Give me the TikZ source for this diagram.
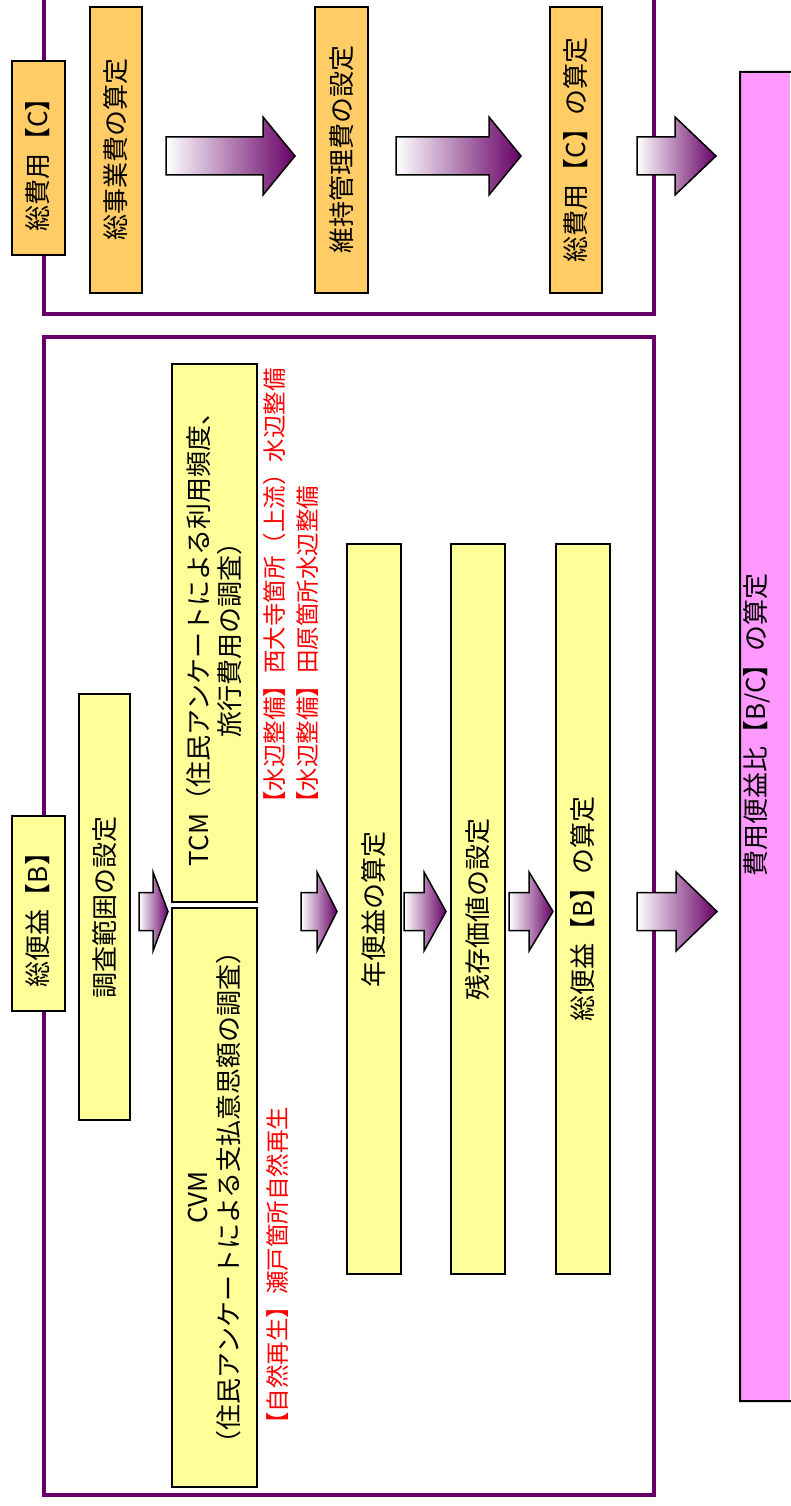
\documentclass[tikz,border=0pt]{standalone}
\usepackage{fontspec}
\newfontfamily\jp{Noto Sans CJK JP}
\definecolor{frm}{HTML}{660066}
\definecolor{ylw}{HTML}{FFFF99}
\definecolor{org}{HTML}{FFCC66}
\definecolor{pnk}{HTML}{FF99FF}
\definecolor{redt}{HTML}{FF0000}
% block arrow: tail x, head-base x, tip x, centre y, body half-height, head half-height
\newcommand\BArrow[6]{%
  \path[barrow] ({#1},{#4-#5}) -- ({#2},{#4-#5}) -- ({#2},{#4-#6}) -- ({#3},{#4})
    -- ({#2},{#4+#6}) -- ({#2},{#4+#5}) -- ({#1},{#4+#5}) -- cycle;}
\begin{document}
\begin{tikzpicture}[x=1pt,y=-1pt,
  box/.style={draw=black, line width=2, rotate=90, inner sep=0, align=center,
    font=\jp\fontsize{26}{31}\selectfont},
  ybox/.style={box, fill=ylw},
  obox/.style={box, fill=org},
  pbox/.style={fill=pnk, rotate=90, inner sep=0},
  txt/.style={rotate=90, inner sep=0, font=\jp\fontsize{26}{31}\selectfont},
  redtxt/.style={text=redt, rotate=90, inner sep=0, align=left, anchor=west,
    font=\jp\fontsize{23.5}{33}\selectfont},
  frame/.style={draw=frm, line width=4},
  barrow/.style={draw=black, line width=1.5, left color=white, right color=frm}]
\useasboundingbox (0,0) rectangle (790,1506);

% group frames
\draw[frame] (43.5,0) -- (43.5,313.5) -- (653.5,313.5) -- (653.5,0);
\draw[frame] (43.5,337) rectangle (653.5,1495);

% cost part
\node[obox, minimum width=194, minimum height=53] (totC) at (38,158.5) {総費用【C】};
\node[obox, minimum width=286, minimum height=52] (c1) at (116,150) {総事業費の算定};
\node[obox, minimum width=286, minimum height=53] (c2) at (341.5,150) {維持管理費の設定};
\node[obox, minimum width=286, minimum height=52] (c3) at (576,150) {総費用【C】の算定};

% B/C box (open at the right edge of the picture)
\node[pbox, minimum width=1329, minimum height=50, anchor=north] (bc) at (740,736.5) {};
\coordinate (bcTR) at (792,72);
\coordinate (bcBR) at (792,1401);
\draw[black, line width=2] (bcTR) -- (bc.north east) -- (bc.north west) -- (bcBR);
\node[txt] (bct) at (757,725) {費用便益比【B/C】の算定};

% benefit part
\node[ybox, minimum width=195, minimum height=53] (totB) at (38,913.5) {総便益【B】};
\node[ybox, minimum width=426, minimum height=51] (s1) at (104.5,907) {調査範囲の設定};
\node[ybox, minimum width=538, minimum height=85] (tcm) at (214.5,633) {TCM（住民アンケートによる利用頻度、\\旅行費用の調査）};
\node[ybox, minimum width=579, minimum height=85] (cvm) at (214.5,1197.5) {CVM\\（住民アンケートによる支払意思額の調査）};
\node[ybox, minimum width=730, minimum height=54] (b1) at (374,909) {年便益の算定};
\node[ybox, minimum width=730, minimum height=54] (b2) at (478,909) {残存価値の設定};
\node[ybox, minimum width=730, minimum height=54] (b3) at (583,909) {総便益【B】の算定};

\node[redtxt] (rt) at (290.5,815) {【水辺整備】西大寺箇所（上流）水辺整備\\【水辺整備】田原箇所水辺整備};
\node[redtxt] (rc) at (278,1436) {【自然再生】瀬戸箇所自然再生};

% block arrows (cost row)
\BArrow{166}{263}{295}{156}{19}{39}
\BArrow{396}{489}{521}{156}{19}{39}
\BArrow{637}{675}{716}{156}{19}{39}
% block arrows (benefit row)
\BArrow{139}{153}{168}{911.5}{19}{39.5}
\BArrow{301}{317}{337}{911.5}{19}{39.5}
\BArrow{404}{424}{446}{911.5}{19}{39.5}
\BArrow{509}{529}{553}{911.5}{19}{39.5}
\BArrow{637}{676}{717}{911.5}{19}{39.5}
\end{tikzpicture}
\end{document}
